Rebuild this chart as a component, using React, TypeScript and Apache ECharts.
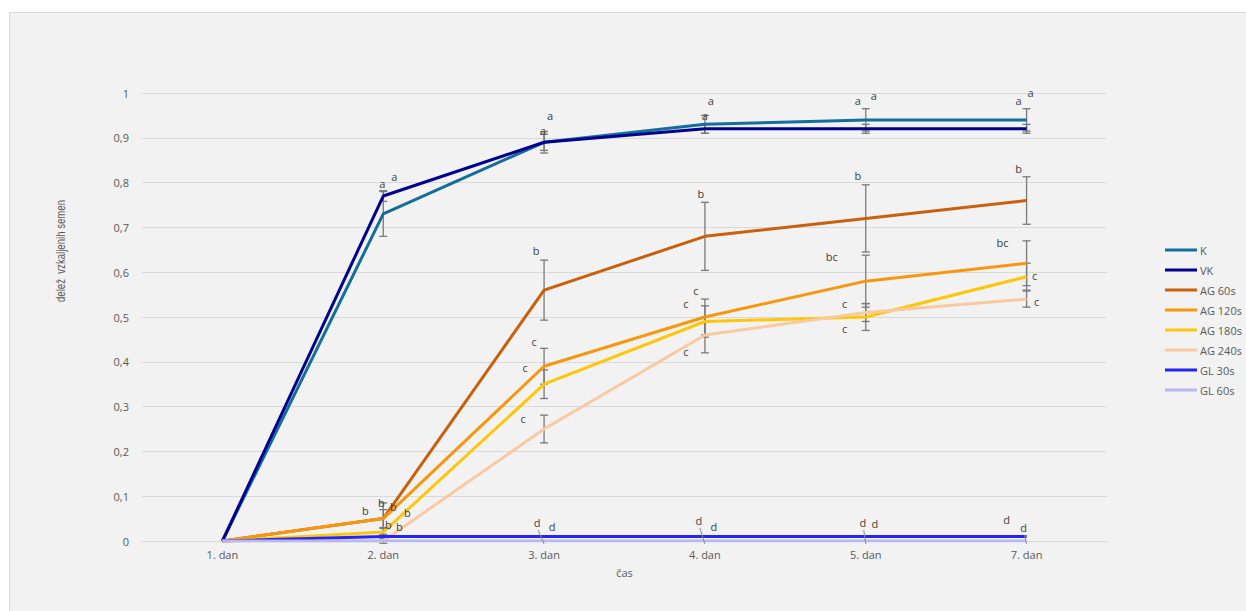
import React, { useEffect, useRef } from "react";
import * as echarts from "echarts";

// Germination share per day for each treatment
const DAYS = ["1. dan", "2. dan", "3. dan", "4. dan", "5. dan", "7. dan"];
const Y_TICKS = [0, 0.1, 0.2, 0.3, 0.4, 0.5, 0.6, 0.7, 0.8, 0.9, 1];

const K_VALUES = [0, 0.73, 0.89, 0.93, 0.94, 0.94];
const VK_VALUES = [0, 0.77, 0.89, 0.92, 0.92, 0.92];
const AG60_VALUES = [0, 0.05, 0.56, 0.68, 0.72, 0.76];
const AG120_VALUES = [0, 0.05, 0.39, 0.5, 0.58, 0.62];
const AG180_VALUES = [0, 0.02, 0.35, 0.49, 0.5, 0.59];
const AG240_VALUES = [0, 0, 0.25, 0.46, 0.51, 0.54];
const GL30_VALUES = [0, 0.01, 0.01, 0.01, 0.01, 0.01];
const GL60_VALUES = [0, 0, 0, 0, 0, 0];

// Standard deviations (error bars)
const K_ERR = [0, 0.05, 0.018, 0.02, 0.025, 0.025];
const VK_ERR = [0, 0.012, 0.024, 0.01, 0.01, 0.01];
const AG60_ERR = [0, 0.035, 0.067, 0.076, 0.075, 0.053];
const AG120_ERR = [0, 0.02, 0.04, 0.04, 0.058, 0.05];
const AG180_ERR = [0, 0.008, 0.032, 0.035, 0.03, 0.03];
const AG240_ERR = [0, 0.005, 0.031, 0.04, 0.02, 0.018];
const GL30_ERR = [0, 0, 0, 0, 0, 0];
const GL60_ERR = [0, 0, 0, 0, 0, 0];

// Significance letters
const K_LETTERS = ["", "a", "a", "a", "a", "a"];
const VK_LETTERS = ["", "a", "a", "a", "a", "a"];
const AG60_LETTERS = ["", "b", "b", "b", "b", "b"];
const AG120_LETTERS = ["", "b", "c", "c", "bc", "bc"];
const AG180_LETTERS = ["", "b", "c", "c", "c", "c"];
const AG240_LETTERS = ["", "b", "c", "c", "c", "c"];
const GL30_LETTERS = ["", "b", "d", "d", "d", "d"];
const GL60_LETTERS = ["", "b", "d", "d", "d", "d"];

// Letter placement relative to each point, in pixels
type Off = [number, number] | null;
const K_LABEL_OFF: Off[] = [null, [11, -37], [6, -27], [6, -24], [8, -24], [4, -27]];
const VK_LABEL_OFF: Off[] = [null, [-1, -13], [-1, -12], [0, -13], [-8, -28], [-8, -28]];
const AG60_LABEL_OFF: Off[] = [null, [-2, -16], [-8, -40], [-4, -43], [-8, -43], [-8, -32]];
const AG120_LABEL_OFF: Off[] = [null, [-18, -8], [-10, -25], [-9, -27], [-34, -25], [-24, -21]];
const AG180_LABEL_OFF: Off[] = [null, [5, -8], [-19, -17], [-19, -18], [-21, -14], [8, -1]];
const AG240_LABEL_OFF: Off[] = [null, [24, -29], [-21, -11], [-19, 17], [-21, 16], [10, 2]];
const GL30_LABEL_OFF: Off[] = [null, [16, -10], [8, -10], [9, -10], [9, -13], [-20, -17]];
const GL60_LABEL_OFF: Off[] = [null, [10, -35], [-7, -19], [-6, -21], [-3, -19], [-3, -14]];
const GL60_LEADERS = [false, false, true, true, true, true];
const NO_LEADERS = [false, false, false, false, false, false];

const SERIES = [
  { name: "K", color: "#136e9c", values: K_VALUES, err: K_ERR, letters: K_LETTERS, off: K_LABEL_OFF, leaders: NO_LEADERS },
  { name: "VK", color: "#00008f", values: VK_VALUES, err: VK_ERR, letters: VK_LETTERS, off: VK_LABEL_OFF, leaders: NO_LEADERS },
  { name: "AG 60s", color: "#c8600c", values: AG60_VALUES, err: AG60_ERR, letters: AG60_LETTERS, off: AG60_LABEL_OFF, leaders: NO_LEADERS },
  { name: "AG 120s", color: "#f8960e", values: AG120_VALUES, err: AG120_ERR, letters: AG120_LETTERS, off: AG120_LABEL_OFF, leaders: NO_LEADERS },
  { name: "AG 180s", color: "#ffc60a", values: AG180_VALUES, err: AG180_ERR, letters: AG180_LETTERS, off: AG180_LABEL_OFF, leaders: NO_LEADERS },
  { name: "AG 240s", color: "#f9c9a0", values: AG240_VALUES, err: AG240_ERR, letters: AG240_LETTERS, off: AG240_LABEL_OFF, leaders: NO_LEADERS },
  { name: "GL 30s", color: "#2424f5", values: GL30_VALUES, err: GL30_ERR, letters: GL30_LETTERS, off: GL30_LABEL_OFF, leaders: NO_LEADERS },
  { name: "GL 60s", color: "#b8b8f4", values: GL60_VALUES, err: GL60_ERR, letters: GL60_LETTERS, off: GL60_LABEL_OFF, leaders: GL60_LEADERS },
];

const FONT = "'Open Sans', 'DejaVu Sans', sans-serif";
const TEXT_GRAY = "#595959";
const LETTER_GRAY = "#404040";

export default function App() {
  const ref = useRef<HTMLDivElement>(null);

  useEffect(() => {
    document.body.style.margin = "0";
    if (!ref.current) return;
    const chart = echarts.init(ref.current, null, { renderer: "svg" });

    const errorSeries = SERIES.map((s) => ({
      type: "custom",
      name: s.name + " err",
      z: 1,
      silent: true,
      itemStyle: { color: "#7a7a7a" },
      data: s.values
        .map((v, i) => [i, v, s.err[i]])
        .filter((d) => d[2] > 0),
      encode: { x: 0, y: 1 },
      renderItem: (_params: any, api: any) => {
        const x = api.value(0);
        const v = api.value(1);
        const e = api.value(2);
        const top = api.coord([x, v + e]);
        const bot = api.coord([x, v - e]);
        const w = 4;
        const st = { stroke: "#7a7a7a", lineWidth: 1.3 };
        return {
          type: "group",
          children: [
            { type: "line", shape: { x1: top[0], y1: top[1], x2: bot[0], y2: bot[1] }, style: st },
            { type: "line", shape: { x1: top[0] - w, y1: top[1], x2: top[0] + w, y2: top[1] }, style: st },
            { type: "line", shape: { x1: bot[0] - w, y1: bot[1], x2: bot[0] + w, y2: bot[1] }, style: st },
          ],
        };
      },
    }));

    const lineSeries = SERIES.map((s) => ({
      type: "line",
      name: s.name,
      data: s.values,
      symbol: "none",
      z: 2,
      lineStyle: { color: s.color, width: 3 },
      itemStyle: { color: s.color },
    }));

    const labelItems: { x: number; v: number; text: string; dx: number; dy: number; leader: boolean }[] = [];
    SERIES.forEach((s) => {
      s.values.forEach((v, i) => {
        const o = s.off[i];
        if (s.letters[i] && o) {
          labelItems.push({ x: i, v, text: s.letters[i], dx: o[0], dy: o[1], leader: s.leaders[i] });
        }
      });
    });

    const labelSeries = {
      type: "custom",
      name: "letters",
      z: 3,
      silent: true,
      itemStyle: { color: LETTER_GRAY },
      data: labelItems.map((it) => [it.x, it.v]),
      encode: { x: 0, y: 1 },
      renderItem: (params: any, api: any) => {
        const it = labelItems[params.dataIndex];
        const p = api.coord([it.x, it.v]);
        const tx = p[0] + it.dx;
        const ty = p[1] + it.dy;
        const children: any[] = [
          {
            type: "text",
            x: tx,
            y: ty,
            style: {
              text: it.text,
              fill: LETTER_GRAY,
              fontSize: 11,
              fontFamily: FONT,
              align: "center",
              verticalAlign: "middle",
            },
          },
        ];
        if (it.leader) {
          children.push({
            type: "line",
            shape: { x1: tx + 1, y1: ty + 8, x2: p[0], y2: p[1] + 3 },
            style: { stroke: "#8c8c8c", lineWidth: 1 },
          });
        }
        return { type: "group", children };
      },
    };

    chart.setOption({
      animation: false,
      backgroundColor: "transparent",
      textStyle: { fontFamily: FONT },
      grid: { left: 142, right: 139, top: 93, bottom: 70, containLabel: false },
      legend: {
        orient: "vertical",
        left: 1160,
        top: 238,
        icon: "rect",
        itemWidth: 32,
        itemHeight: 3,
        itemGap: 6,
        textStyle: { color: TEXT_GRAY, fontSize: 11, fontFamily: FONT, lineHeight: 14, padding: [0, 0, 0, -2] },
        data: SERIES.map((s) => s.name),
      },
      xAxis: {
        type: "category",
        data: DAYS,
        boundaryGap: true,
        axisTick: { show: false },
        axisLine: { lineStyle: { color: "#d9d9d9", width: 1 } },
        axisLabel: { color: TEXT_GRAY, fontSize: 11, margin: 8, fontFamily: FONT },
        name: "čas",
        nameLocation: "middle",
        nameGap: 26,
        nameTextStyle: { color: TEXT_GRAY, fontSize: 11, fontFamily: FONT },
      },
      yAxis: {
        type: "value",
        min: Y_TICKS[0],
        max: Y_TICKS[Y_TICKS.length - 1],
        interval: 0.1,
        axisLine: { show: false },
        axisTick: { show: false },
        splitLine: { lineStyle: { color: "#d9d9d9", width: 1 } },
        axisLabel: {
          color: TEXT_GRAY,
          fontSize: 11,
          margin: 13,
          fontFamily: FONT,
          formatter: (v: number) => String(Number(v.toFixed(1))).replace(".", ","),
        },
      },
      graphic: [
        {
          type: "text",
          x: 60,
          y: 251,
          rotation: Math.PI / 2,
          scaleX: 0.74,
          silent: true,
          style: {
            text: "delež  vzkaljenih semen",
            fill: TEXT_GRAY,
            fontSize: 13,
            fontFamily: "'Liberation Sans', sans-serif",
            align: "center",
            verticalAlign: "middle",
          },
        },
      ],
      series: [...errorSeries, ...lineSeries, labelSeries],
    });

    return () => chart.dispose();
  }, []);

  return (
    <div style={{ position: "relative", width: 1246, height: 611, overflow: "hidden", background: "#ffffff" }}>
      <div
        style={{
          position: "absolute",
          left: 9,
          top: 12,
          width: 1260,
          height: 620,
          background: "#f2f2f2",
          border: "1px solid #d9d9d9",
        }}
      />
      <div ref={ref} style={{ position: "absolute", left: 0, top: 0, width: 1246, height: 611 }} />
    </div>
  );
}
